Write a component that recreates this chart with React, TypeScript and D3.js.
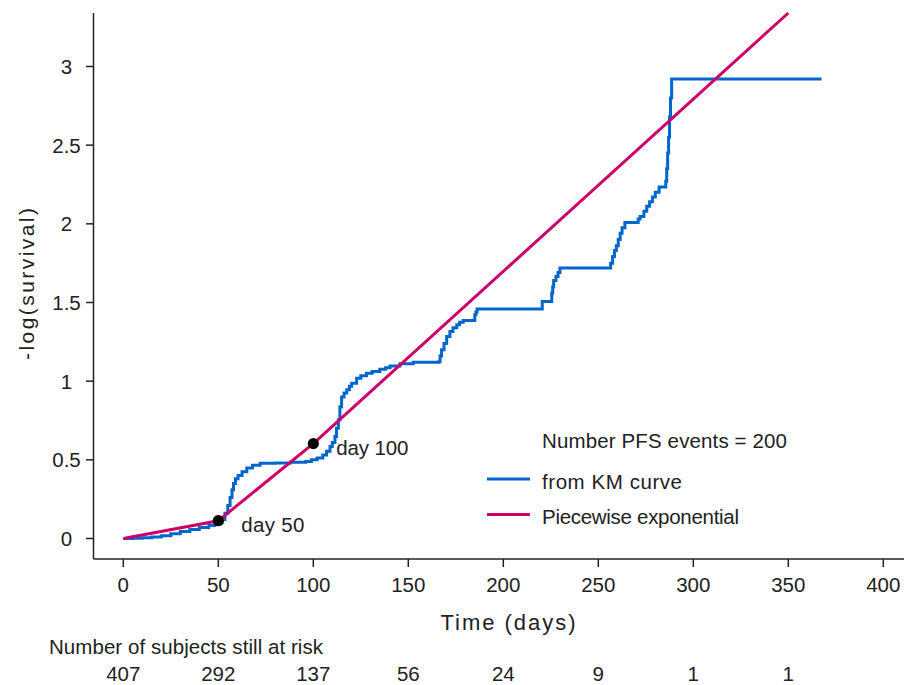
import React from "react";
import * as d3 from "d3";

// ---- data ----
const xTicks = [0, 50, 100, 150, 200, 250, 300, 350, 400];
const yTicks = [0, 0.5, 1, 1.5, 2, 2.5, 3];
const yTickLabels = ["0", "0.5", "1", "1.5", "2", "2.5", "3"];
const atRiskTimes = [0, 50, 100, 150, 200, 250, 300, 350];
const atRiskCounts = [407, 292, 137, 56, 24, 9, 1, 1];

// Kaplan-Meier derived cumulative hazard (-log survival), step function
const kmTimes = [
  0, 5, 10, 15, 20, 25, 30, 35, 40, 45, 48, 50, 52, 53.5, 55, 56.2, 57.2, 58, 59, 60.4,
  62.5, 65, 68, 72, 80, 88, 96, 99, 102, 105, 107, 108.8, 110, 111.4, 112.2, 113.2, 114,
  114.9, 116.2, 117.6, 119, 120.2, 122.8, 125, 128, 131, 135, 138, 140.4, 145.6, 152.6,
  166, 166.7, 167.5, 168.8, 170.2, 171.9, 173.5, 175.5, 177, 178.9, 185, 185.6, 186.2,
  220.5, 225.5, 226, 226.5, 227.7, 228.8, 229.8, 256.5, 257.5, 258.5, 259.5, 260.5, 261.5,
  262.5, 264, 271, 272, 274, 275.5, 277, 278.5, 280, 282, 285.5, 286, 286.5, 287, 287.5,
  288, 288.6, 367.5,
];
const kmCumHaz = [
  0, 0.002, 0.005, 0.01, 0.018, 0.03, 0.045, 0.058, 0.07, 0.082, 0.09, 0.1, 0.12, 0.16,
  0.21, 0.26, 0.31, 0.35, 0.38, 0.4, 0.425, 0.448, 0.465, 0.478, 0.48, 0.485, 0.49, 0.5,
  0.512, 0.53, 0.555, 0.584, 0.61, 0.648, 0.7, 0.754, 0.838, 0.9, 0.925, 0.945, 0.968,
  0.987, 1.019, 1.035, 1.051, 1.062, 1.076, 1.085, 1.097, 1.11, 1.12, 1.124, 1.16, 1.2,
  1.24, 1.284, 1.316, 1.34, 1.358, 1.375, 1.386, 1.422, 1.44, 1.458, 1.506, 1.56, 1.6,
  1.64, 1.665, 1.69, 1.719, 1.75, 1.793, 1.83, 1.86, 1.9, 1.94, 1.975, 2.009, 2.03, 2.047,
  2.08, 2.111, 2.14, 2.17, 2.2, 2.234, 2.27, 2.35, 2.45, 2.55, 2.68, 2.8, 2.92, 2.92,
];

// Piecewise exponential cumulative hazard knots
const pwTimes = [0, 50, 100, 350];
const pwCumHaz = [0, 0.113, 0.603, 3.34];

// annotated points
const markDays = [50, 100];
const markLabels = ["day 50", "day 100"];

const legendTitle = "Number PFS events = 200";
const seriesNames = ["from KM curve", "Piecewise exponential"];
const seriesColors = ["#0066CC", "#CC0066"];

const FONT = "'Liberation Sans', Arial, sans-serif";

export default function App() {
  const W = 906;
  const H = 685;
  const x = d3.scaleLinear().domain([0, 400]).range([123.3, 883.3]);
  const y = d3.scaleLinear().domain([0, 3]).range([538.5, 66.5]);
  const axisY = 559;
  const axisX = 93.5;

  const kmData = kmTimes.map((t, i) => [t, kmCumHaz[i]] as [number, number]);
  const pwData = pwTimes.map((t, i) => [t, pwCumHaz[i]] as [number, number]);

  const kmLine = d3
    .line<[number, number]>()
    .x((d) => x(d[0]))
    .y((d) => y(d[1]))
    .curve(d3.curveStepAfter);
  const pwLine = d3
    .line<[number, number]>()
    .x((d) => x(d[0]))
    .y((d) => y(d[1]));

  const pwAt = (t: number) => {
    for (let i = 0; i < pwTimes.length - 1; i++) {
      if (t >= pwTimes[i] && t <= pwTimes[i + 1]) {
        const f = (t - pwTimes[i]) / (pwTimes[i + 1] - pwTimes[i]);
        return pwCumHaz[i] + f * (pwCumHaz[i + 1] - pwCumHaz[i]);
      }
    }
    return pwCumHaz[pwCumHaz.length - 1];
  };

  const textColor = "#222";
  const fs = 20.5;
  const lw = 3;

  return (
    <svg
      width={W}
      height={H}
      style={{ position: "absolute", left: 0, top: 0, background: "#fff" }}
      fontFamily={FONT}
    >
      <rect x={0} y={0} width={W} height={H} fill="#fff" />
      {/* axes */}
      <line x1={axisX} y1={13} x2={axisX} y2={axisY} stroke="#222" strokeWidth={1.5} />
      <line x1={axisX} y1={axisY} x2={904} y2={axisY} stroke="#222" strokeWidth={1.5} />
      {yTicks.map((v, i) => (
        <g key={"yt" + i}>
          <line x1={86} x2={axisX} y1={y(v)} y2={y(v)} stroke="#222" strokeWidth={1.5} />
          <text
            x={66.5}
            y={y(v)}
            dy="0.36em"
            textAnchor="middle"
            fontSize={fs}
            fill={textColor}
          >
            {yTickLabels[i]}
          </text>
        </g>
      ))}
      {xTicks.map((t, i) => (
        <g key={"xt" + i}>
          <line x1={x(t)} x2={x(t)} y1={axisY} y2={axisY + 8} stroke="#222" strokeWidth={1.5} />
          <text x={x(t)} y={592} textAnchor="middle" fontSize={fs} fill={textColor}>
            {String(t)}
          </text>
        </g>
      ))}
      {/* axis titles */}
      <text
        x={508}
        y={630}
        textAnchor="middle"
        fontSize={22}
        fill={textColor}
        textLength={135}
        lengthAdjust="spacing"
      >
        Time (days)
      </text>
      <text
        transform={`translate(34,284) rotate(-90)`}
        textAnchor="middle"
        fontSize={21}
        fill={textColor}
        textLength={152}
        lengthAdjust="spacing"
      >
        -log(survival)
      </text>

      {/* number at risk */}
      <text x={49} y={654} fontSize={fs} fill={textColor} textLength={274} lengthAdjust="spacing">
        Number of subjects still at risk
      </text>
      {atRiskTimes.map((t, i) => (
        <text key={"ar" + i} x={x(t)} y={681} textAnchor="middle" fontSize={fs} fill={textColor}>
          {String(atRiskCounts[i])}
        </text>
      ))}

      {/* curves */}
      <path
        d={kmLine(kmData) || ""}
        fill="none"
        stroke={seriesColors[0]}
        strokeWidth={lw}
        strokeLinejoin="miter"
      />
      <path d={pwLine(pwData) || ""} fill="none" stroke={seriesColors[1]} strokeWidth={lw} />

      {/* marked days */}
      {markDays.map((t, i) => (
        <g key={"mk" + i}>
          <circle cx={x(t)} cy={y(pwAt(t))} r={5.6} fill="#000" />
          <text
            x={x(t) + 23}
            y={y(pwAt(t)) + 11}
            fontSize={fs}
            fill={textColor}
            textLength={i === 0 ? 63 : 72}
            lengthAdjust="spacing"
          >
            {markLabels[i]}
          </text>
        </g>
      ))}

      {/* legend */}
      <text x={542} y={448} fontSize={fs} fill={textColor} textLength={245} lengthAdjust="spacing">
        {legendTitle}
      </text>
      {seriesNames.map((name, i) => (
        <g key={"lg" + i}>
          <line
            x1={487}
            x2={530}
            y1={479 + i * 35.5}
            y2={479 + i * 35.5}
            stroke={seriesColors[i]}
            strokeWidth={lw}
          />
          <text
            x={542}
            y={488.5 + i * 35.5}
            fontSize={fs}
            fill={textColor}
            textLength={i === 0 ? 140 : 197}
            lengthAdjust="spacing"
          >
            {name}
          </text>
        </g>
      ))}
    </svg>
  );
}
